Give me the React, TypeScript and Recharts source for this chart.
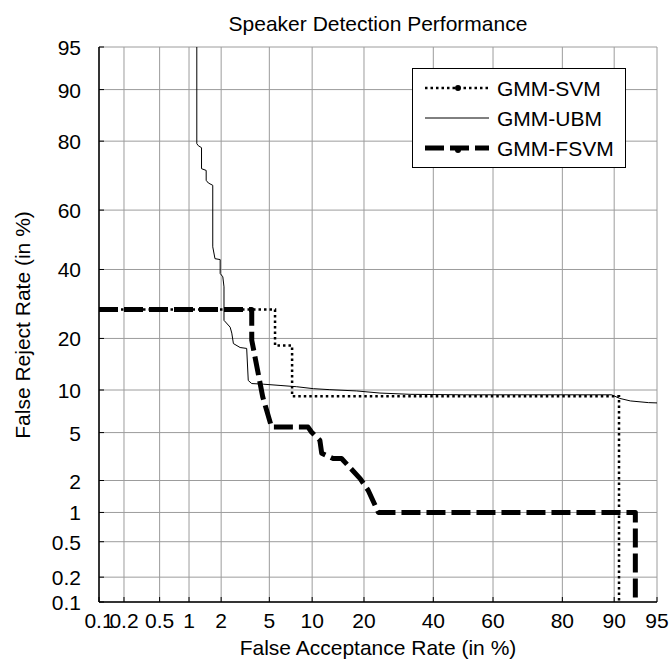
import React from "react";
import { LineChart, Line, XAxis, YAxis, CartesianGrid, Legend } from "recharts";

// DET plot: both axes on normal-deviate (probit) scale
const tickValues = [0.1, 0.2, 0.5, 1, 2, 5, 10, 20, 40, 60, 80, 90, 95];
const tickLabels = ["0.1", "0.2", "0.5", "1", "2", "5", "10", "20", "40", "60", "80", "90", "95"];

const svmFA = [0.1, 5.52, 5.52, 7.33, 7.33, 90.7, 90.7];
const svmFR = [27.6, 27.6, 18.35, 18.35, 9.1, 9.1, 0.1];

const ubmFA = [
  1.19, 1.19, 1.23, 1.32, 1.32, 1.46, 1.46, 1.53, 1.68, 1.68, 1.76, 1.96, 1.96, 2.07, 2.12, 2.12,
  2.4, 2.48, 2.56, 2.92, 3.31, 3.41, 3.64, 4.49, 6.01, 7.89, 10.2, 12.9, 18.3, 24.0, 32.6, 50,
  89.6, 90.8, 92.2, 94.2, 95,
];
const ubmFR = [
  95, 79.4, 78.9, 78.4, 72.8, 72.3, 69.4, 68.6, 67.9, 47.6, 43.6, 43.3, 38.7, 37.6, 34.4, 24.6,
  22.8, 21.3, 18.8, 17.9, 17.7, 11.5, 11.0, 10.9, 10.7, 10.5, 10.2, 10.05, 9.86, 9.55, 9.37, 9.3,
  9.3, 8.8, 8.46, 8.24, 8.2,
];

const fsvmFA = [0.1, 3.64, 3.64, 4.45, 5.2, 9.4, 9.9, 11.2, 11.5, 13.5, 15.1, 19.1, 21.0, 23.6, 92.8, 92.8];
const fsvmFR = [27.6, 27.6, 19.6, 9.0, 5.5, 5.5, 5.05, 4.36, 3.43, 3.1, 3.1, 2.08, 1.63, 1.0, 1.0, 0.1];

const seriesNames = ["GMM-SVM", "GMM-UBM", "GMM-FSVM"];

const FONT = "'Liberation Sans', Arial, Helvetica, sans-serif";
const PLOT = { left: 99, right: 657, top: 47, bottom: 602 };

// inverse normal CDF (Acklam)
function probit(p: number): number {
  const a = [-39.69683028665376, 220.9460984245205, -275.9285104469687, 138.357751867269, -30.66479806614716, 2.506628277459239];
  const b = [-54.47609879822406, 161.5858368580409, -155.6989798598866, 66.80131188771972, -13.28068155288572];
  const c = [-0.007784894002430293, -0.3223964580411365, -2.400758277161838, -2.549732539343734, 4.374664141464968, 2.938163982698783];
  const d = [0.007784695709041462, 0.3224671290700398, 2.445134137142996, 3.754408661907416];
  const pl = 0.02425;
  if (p < pl) {
    const q = Math.sqrt(-2 * Math.log(p));
    return (((((c[0] * q + c[1]) * q + c[2]) * q + c[3]) * q + c[4]) * q + c[5]) / ((((d[0] * q + d[1]) * q + d[2]) * q + d[3]) * q + 1);
  }
  if (p <= 1 - pl) {
    const q = p - 0.5;
    const r = q * q;
    return ((((((a[0] * r + a[1]) * r + a[2]) * r + a[3]) * r + a[4]) * r + a[5]) * q) / (((((b[0] * r + b[1]) * r + b[2]) * r + b[3]) * r + b[4]) * r + 1);
  }
  const q = Math.sqrt(-2 * Math.log(1 - p));
  return -(((((c[0] * q + c[1]) * q + c[2]) * q + c[3]) * q + c[4]) * q + c[5]) / ((((d[0] * q + d[1]) * q + d[2]) * q + d[3]) * q + 1);
}

const dev = (pct: number) => probit(pct / 100);
const ticks = tickValues.map(dev);
const domain: [number, number] = [dev(0.1), dev(95)];

const toPoints = (fa: number[], fr: number[]) => fa.map((v, i) => ({ x: dev(v), y: dev(fr[i]) }));
const svmData = toPoints(svmFA, svmFR);
const ubmData = toPoints(ubmFA, ubmFR);
const fsvmData = toPoints(fsvmFA, fsvmFR);

const labelFor = (v: number) => {
  let best = 0;
  ticks.forEach((t, i) => {
    if (Math.abs(t - v) < Math.abs(ticks[best] - v)) best = i;
  });
  return tickLabels[best];
};

const BottomTick = (props: any) => {
  const { x, payload } = props;
  return (
    <g>
      <line x1={x} x2={x} y1={PLOT.bottom} y2={PLOT.bottom - 5} stroke="#000" />
      <text x={x} y={628} textAnchor="middle" fontSize={21} fontFamily={FONT} fill="#000">
        {labelFor(payload.value)}
      </text>
    </g>
  );
};

const LeftTick = (props: any) => {
  const { y, payload } = props;
  return (
    <g>
      <line x1={PLOT.left} x2={PLOT.left + 5} y1={y} y2={y} stroke="#000" />
      <text x={81} y={y + 8} textAnchor="end" fontSize={21} fontFamily={FONT} fill="#000">
        {labelFor(payload.value)}
      </text>
    </g>
  );
};

const TopTick = (props: any) => (
  <line x1={props.x} x2={props.x} y1={PLOT.top} y2={PLOT.top + 5} stroke="#000" />
);

const RightTick = (props: any) => (
  <line x1={PLOT.right} x2={PLOT.right - 5} y1={props.y} y2={props.y} stroke="#000" />
);

const LegendBox = () => {
  const rows = [20, 50, 80];
  return (
    <svg width={215} height={101} style={{ display: "block" }}>
      <rect x={0.5} y={0.5} width={213} height={99} fill="#fff" stroke="#000" />
      <line x1={13} x2={77} y1={rows[0]} y2={rows[0]} stroke="#000" strokeWidth={2.5} strokeDasharray="2.5 3" />
      <circle cx={46} cy={rows[0]} r={3} fill="#000" />
      <line x1={13} x2={77} y1={rows[1]} y2={rows[1]} stroke="#000" strokeWidth={1} />
      <line x1={13} x2={77} y1={rows[2]} y2={rows[2]} stroke="#000" strokeWidth={5} strokeDasharray="19 6" />
      <circle cx={46} cy={rows[2] + 2} r={3} fill="#000" />
      {seriesNames.map((n, i) => (
        <text key={n} x={85} y={rows[i] + 8} fontSize={21} fontFamily={FONT} fill="#000">
          {n}
        </text>
      ))}
    </svg>
  );
};

const frame = { stroke: "#000", strokeWidth: 1.5 };

export default function App() {
  return (
    <div style={{ position: "absolute", left: 0, top: 0, width: 670, height: 659, background: "#fff" }}>
      <LineChart
        width={670}
        height={659}
        margin={{ top: PLOT.top, right: 670 - PLOT.right, left: 29, bottom: 17 }}
      >
        <CartesianGrid stroke="#9c9c9c" strokeWidth={1} />
        <XAxis
          type="number"
          dataKey="x"
          domain={domain}
          allowDataOverflow
          ticks={ticks}
          interval={0}
          height={40}
          tick={<BottomTick />}
          tickLine={false}
          axisLine={frame}
        />
        <XAxis
          xAxisId="top"
          orientation="top"
          type="number"
          domain={domain}
          allowDataOverflow
          ticks={ticks}
          interval={0}
          height={0}
          tick={<TopTick />}
          tickLine={false}
          axisLine={frame}
        />
        <YAxis
          type="number"
          dataKey="y"
          domain={domain}
          allowDataOverflow
          ticks={ticks}
          interval={0}
          width={70}
          tick={<LeftTick />}
          tickLine={false}
          axisLine={frame}
        />
        <YAxis
          yAxisId="right"
          orientation="right"
          type="number"
          domain={domain}
          allowDataOverflow
          ticks={ticks}
          interval={0}
          width={0}
          tick={<RightTick />}
          tickLine={false}
          axisLine={frame}
        />
        <Line
          data={ubmData}
          dataKey="y"
          name="GMM-UBM"
          type="linear"
          stroke="#000"
          strokeWidth={1}
          dot={false}
          isAnimationActive={false}
        />
        <Line
          data={svmData}
          dataKey="y"
          name="GMM-SVM"
          type="linear"
          stroke="#000"
          strokeWidth={2.5}
          strokeDasharray="2.5 3"
          dot={false}
          isAnimationActive={false}
        />
        <Line
          data={fsvmData}
          dataKey="y"
          name="GMM-FSVM"
          type="linear"
          stroke="#000"
          strokeWidth={5}
          strokeDasharray="19 6"
          strokeLinejoin="round"
          dot={false}
          isAnimationActive={false}
        />
        <Legend
          layout="vertical"
          align="center"
          verticalAlign="middle"
          content={<LegendBox />}
          wrapperStyle={{ position: "absolute", left: 412, top: 68, width: 215, height: 101 }}
        />
      </LineChart>
      <svg
        width={670}
        height={659}
        style={{ position: "absolute", left: 0, top: 0, pointerEvents: "none" }}
      >
        <text x={378} y={31} textAnchor="middle" fontSize={21} fontFamily={FONT} fill="#000">
          Speaker Detection Performance
        </text>
        <text x={378} y={655} textAnchor="middle" fontSize={21} fontFamily={FONT} fill="#000">
          False Acceptance Rate (in %)
        </text>
        <text
          transform="translate(30,325) rotate(-90)"
          textAnchor="middle"
          fontSize={21}
          fontFamily={FONT}
          fill="#000"
        >
          False Reject Rate (in %)
        </text>
      </svg>
    </div>
  );
}
